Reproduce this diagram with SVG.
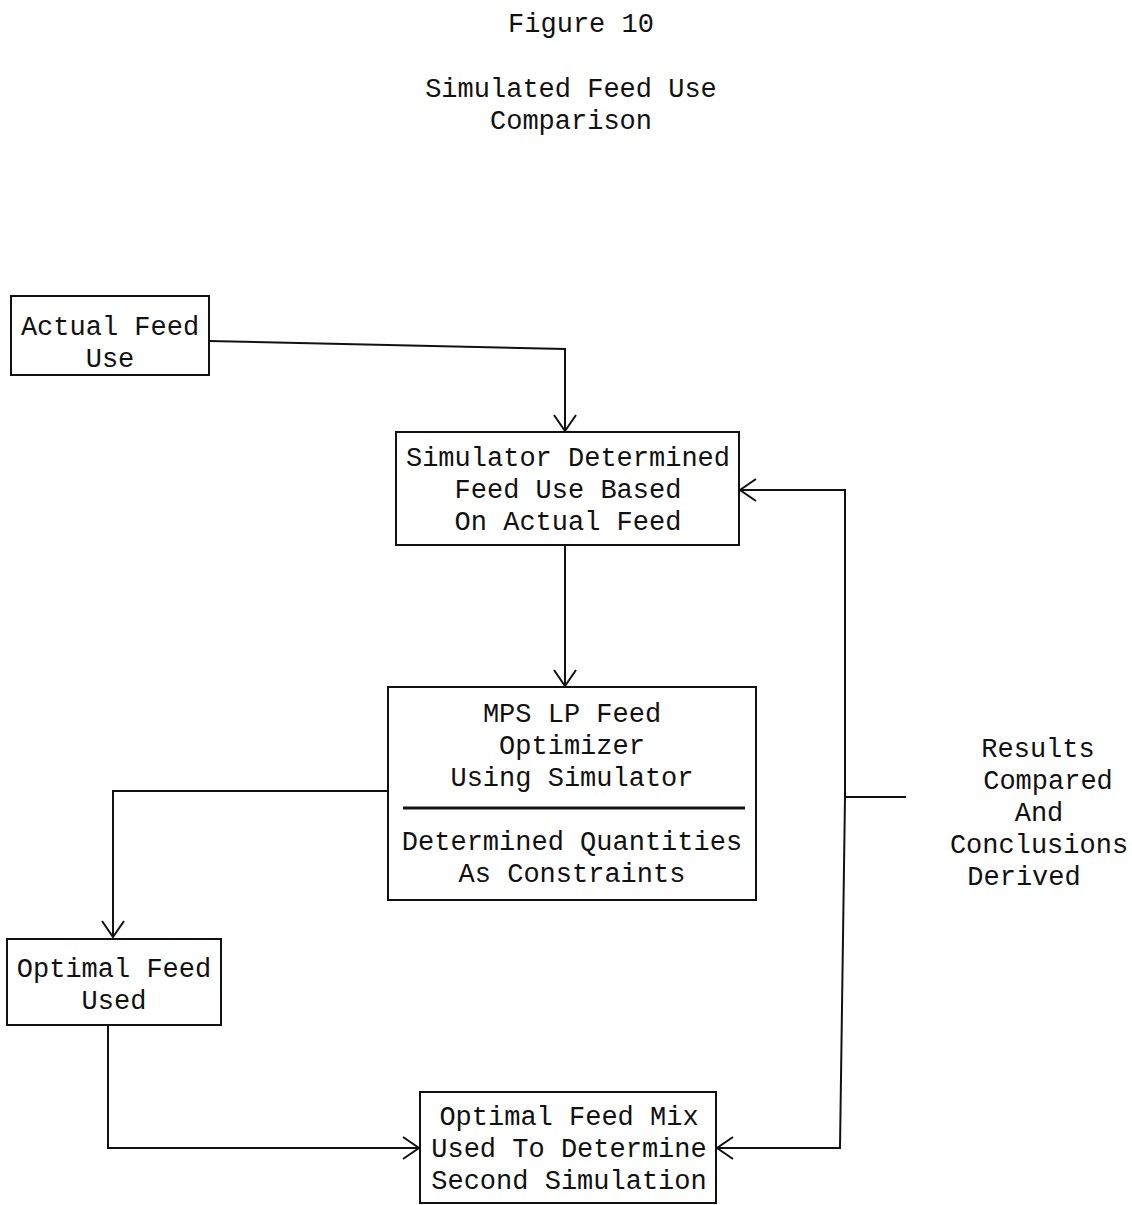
<svg xmlns="http://www.w3.org/2000/svg" width="1132" height="1205" viewBox="0 0 1132 1205">
<style>
text{font-family:"Liberation Mono","Courier New",monospace;font-size:27px;fill:#111;text-anchor:middle}
.box{fill:#fff;stroke:#111;stroke-width:2}
.con{fill:none;stroke:#111;stroke-width:2}
</style>
<defs>
<marker id="arr" viewBox="-18 -13 20 26" refX="0" refY="0" markerWidth="20" markerHeight="26" markerUnits="userSpaceOnUse" orient="auto">
<path d="M-16,-11 L0,0 L-16,11" fill="none" stroke="#111" stroke-width="2"/>
</marker>
</defs>
<rect width="1132" height="1205" fill="#fff"/>
<g id="title">
<text x="581" y="32">Figure 10</text>
<text x="571" y="97">Simulated Feed Use</text>
<text x="571" y="129">Comparison</text>
</g>
<g id="connectors">
<path class="con" d="M209,341 L565,349 L565,431" marker-end="url(#arr)"/>
<path class="con" d="M565,545 L565,686" marker-end="url(#arr)"/>
<path class="con" d="M388,791 L113,791 L113,937" marker-end="url(#arr)"/>
<path class="con" d="M108,1025 L108,1148 L419,1148" marker-end="url(#arr)"/>
<path class="con" d="M906,797 L845,797 L845,490 L740,490" marker-end="url(#arr)"/>
<path class="con" d="M845,797 L840,1148 L717,1148" marker-end="url(#arr)"/>
</g>
<g id="actual-feed-use">
<rect class="box" x="11" y="296" width="198" height="79"/>
<text x="110" y="335">Actual Feed</text>
<text x="110" y="367">Use</text>
</g>
<g id="simulator-determined">
<rect class="box" x="396" y="432" width="343" height="113"/>
<text x="568" y="466">Simulator Determined</text>
<text x="568" y="498">Feed Use Based</text>
<text x="568" y="530">On Actual Feed</text>
</g>
<g id="mps-lp-optimizer">
<rect class="box" x="388" y="687" width="368" height="213"/>
<text x="572" y="722">MPS LP Feed</text>
<text x="572" y="754">Optimizer</text>
<text x="572" y="786">Using Simulator</text>
<line x1="403" y1="808" x2="745" y2="808" stroke="#111" stroke-width="3"/>
<text x="572" y="850">Determined Quantities</text>
<text x="572" y="882">As Constraints</text>
</g>
<g id="optimal-feed-used">
<rect class="box" x="7" y="939" width="214" height="86"/>
<text x="114" y="977">Optimal Feed</text>
<text x="114" y="1009">Used</text>
</g>
<g id="optimal-feed-mix">
<rect class="box" x="420" y="1092" width="296" height="111"/>
<text x="569" y="1125">Optimal Feed Mix</text>
<text x="569" y="1157">Used To Determine</text>
<text x="569" y="1189">Second Simulation</text>
</g>
<g id="results">
<text x="1038" y="757">Results</text>
<text x="1048" y="789">Compared</text>
<text x="1039" y="821">And</text>
<text x="1039" y="853">Conclusions</text>
<text x="1024" y="885">Derived</text>
</g>
</svg>
